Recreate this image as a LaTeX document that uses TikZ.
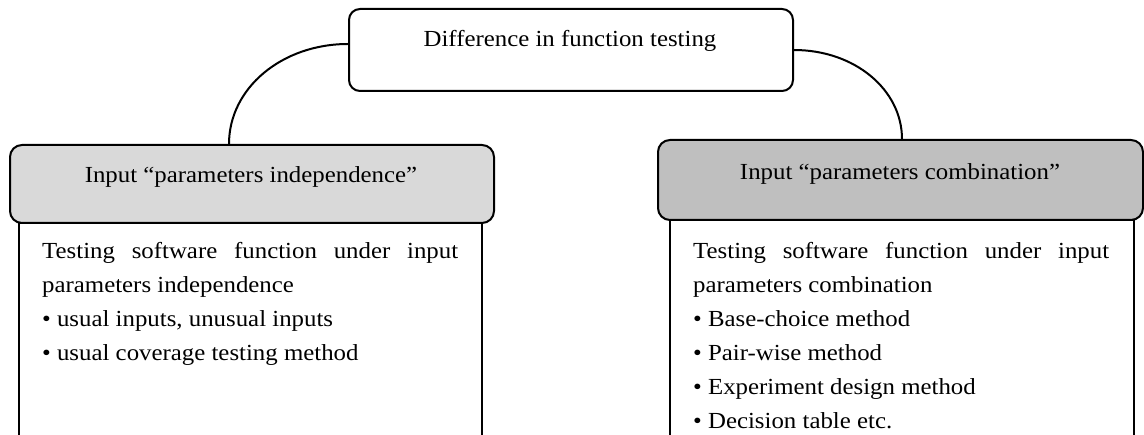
\documentclass[tikz,border=0pt]{standalone}
\usepackage{fontspec}
\setmainfont{Liberation Serif}[FakeStretch=1.08]
\definecolor{lgray}{HTML}{D9D9D9}
\definecolor{dgray}{HTML}{BFBFBF}
\newcommand\bodysetup{\hyphenpenalty=10000 \tolerance=9999 \noindent}
\begin{document}
\begin{tikzpicture}[x=1pt,y=-1pt,
  txt/.style={font=\fontsize{23}{34}\selectfont, inner sep=0pt},
  bodytxt/.style={inner sep=0pt, text width=416pt, align=justify,
    font=\fontsize{23}{34}\selectfont},
  topbox/.style={draw, line width=2pt, rounded corners=11pt, inner sep=0pt},
  headbox/.style={draw, line width=2pt, rounded corners=12pt, inner sep=0pt},
  bodybox/.style={draw, line width=2pt, fill=white, inner sep=0pt},
  link/.style={line width=2pt}]
\useasboundingbox (0,0) rectangle (1144,435);

% root box
\node[topbox, minimum width=444pt, minimum height=82pt, anchor=north west] (top) at (348,8) {};
\node[txt, anchor=base] (toptext) at (570,47) {Difference in function testing};

% content boxes (open towards the lower edge)
\node[bodybox, minimum width=463pt, minimum height=214pt, anchor=north west] (lbody) at (18,222) {};
\node[bodybox, minimum width=464pt, minimum height=217pt, anchor=north west] (rbody) at (669,219) {};

\node[bodytxt, anchor=north west] (lbodytext) at (42,234.2)
  {\bodysetup\strut Testing software function under input parameters independence\par
   \textbullet\ usual inputs, unusual inputs\par
   \textbullet\ usual coverage testing method};
\node[bodytxt, anchor=north west] (rbodytext) at (693,234.6)
  {\bodysetup\strut Testing software function under input parameters combination\par
   \textbullet\ Base-choice method\par
   \textbullet\ Pair-wise method\par
   \textbullet\ Experiment design method\par
   \textbullet\ Decision table etc.};

% headers
\node[headbox, fill=lgray, minimum width=484pt, minimum height=78pt, anchor=north west] (lhead) at (9,144) {};
\node[txt, anchor=base] (lheadtext) at (251,183) {Input “parameters independence”};
\node[headbox, fill=dgray, minimum width=485pt, minimum height=80pt, anchor=north west] (rhead) at (657,139) {};
\node[txt, anchor=base] (rheadtext) at (900,180) {Input “parameters combination”};

% connectors
\draw[link] ([yshift=6pt]top.west) .. controls +(-66,0) and +(0,-56) .. ([xshift=220pt]lhead.north west);
\draw[link] (top.east) .. controls +(61,0) and +(0,-49) .. ([xshift=245pt]rhead.north west);
\end{tikzpicture}
\end{document}
